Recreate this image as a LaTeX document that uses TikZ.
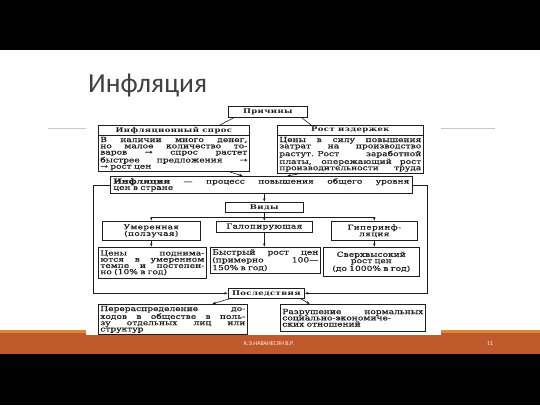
\documentclass[tikz,border=0pt]{standalone}
\usepackage{fontspec}
\setmainfont{DejaVu Serif}
\newfontfamily\titlefont{Carlito}
\newfontfamily\dfont[FakeStretch=1.3,FakeBold=0.5]{DejaVu Serif}
\newfontfamily\hfont[FakeStretch=1.3,LetterSpace=6]{DejaVu Serif}
\usetikzlibrary{arrows.meta}
\definecolor{barorange}{HTML}{BF5A2C}
\definecolor{striporange}{HTML}{DE8638}
\definecolor{rulegray}{HTML}{C8C8C8}
\definecolor{titlegray}{HTML}{404040}
\definecolor{ink}{HTML}{1E1E1E}
\newcommand\jl[1]{\leavevmode\hbox to \hsize{\spaceskip=0.3em plus 1fil\relax #1}\\}
\newcommand\jlast[1]{\leavevmode\hbox to \hsize{\spaceskip=0.3em plus 1fil\relax #1}}
\begin{document}
\begin{tikzpicture}[x=1pt,y=-1pt,
  box/.style={draw=ink, line width=0.6pt, inner sep=1.6pt, anchor=north west, text=ink,
    font=\dfont\fontsize{7}{6.25}\selectfont, align=left},
  hbox/.style={draw=ink, line width=0.6pt, inner sep=0pt, anchor=north west, text=ink,
    font=\hfont\bfseries\fontsize{6.5}{6.5}\selectfont, align=center},
  tbox/.style={draw=ink, line width=0.6pt, inner sep=0pt, anchor=north west, text=ink,
    font=\dfont\addfontfeature{LetterSpace=6}\fontsize{6.8}{6.6}\selectfont, align=center},
  ln/.style={draw=ink, line width=0.6pt},
  arr/.style={ln, -{Latex[length=3.5pt,width=2.6pt]}},
]
\useasboundingbox (0,0) rectangle (540,405);
% slide background
\fill[white] (0,0) rectangle (540,405);
\fill[black] (0,0) rectangle (540,50);
\fill[black] (0,354) rectangle (540,405);
\fill[barorange] (0,333) rectangle (540,354);
\fill[striporange] (0,330) rectangle (540,333);
\draw[rulegray, line width=0.8pt] (48,128) -- (495,128);
\node[anchor=base west, font=\titlefont\fontsize{27.5}{27.5}\selectfont, text=titlegray, inner sep=0pt] (title) at (88,92) {Инфляция};
% scanned image area
\fill[white] (86,99) rectangle (441,335);

% causes
\node[hbox, minimum width=79pt, minimum height=11pt] (prich) at (228,106) {Причины};
\node[hbox, minimum width=151pt, minimum height=10pt] (lh) at (98,125) {Инфляционный спрос};
\node[box, minimum width=151pt, minimum height=34pt, text width=147pt] (lb) at (98,135)
  {\jl{В наличии много денег,}\jl{но малое количество то-}\jl{варов → спрос растет}\jl{быстрее предложения →}→ рост цен};
\node[hbox, minimum width=146pt, minimum height=10pt] (rh) at (277,125) {Рост издержек};
\node[box, minimum width=146pt, minimum height=34pt, text width=142pt] (rb) at (277,135)
  {\jl{Цены в силу повышения}\jl{затрат на производство}\jl{растут. Рост заработной}\jl{платы, опережающий рост}\jlast{производительности труда}};
\draw[ln] ([xshift=6pt]prich.south west) -- ([xshift=122pt]lh.north west);
\draw[ln] ([xshift=-6pt]prich.south east) -- ([xshift=34pt]rh.north west);

% definition
\node[box, minimum width=302pt, minimum height=17pt, text width=296pt] (infl) at (110,176)
  {\jl{\textbf{Инфляция} — процесс повышения общего уровня}цен в стране};
\draw[arr] ([xshift=132pt]lb.south west) -- ([xshift=133pt]infl.north west);
\draw[arr] ([xshift=23pt]rb.south west) -- ([xshift=177pt]infl.north west);

% kinds
\node[hbox, minimum width=78pt, minimum height=10pt] (vidy) at (225,202) {Виды};
\draw[arr] (infl.south -| vidy.north) -- (vidy.north);
\node[tbox, minimum width=98pt, minimum height=19pt] (t1) at (102,221) {Умеренная\\(ползучая)};
\node[tbox, minimum width=96pt, minimum height=11pt] (t2) at (216,221) {Галопирующая};
\node[tbox, minimum width=86pt, minimum height=19pt] (t3) at (331,221) {Гиперинф-\\ляция};
\draw[ln] (vidy.south) -- ++(0,5) coordinate (bj);
\draw[arr] (bj) -| (t1.north);
\draw[arr] (bj) -| (t3.north);
\draw[arr] (bj) -- (bj |- t2.north);

\node[box, minimum width=108pt, minimum height=31pt, text width=104pt] (d1) at (98,247)
  {\jl{Цены поднима-}\jl{ются в умеренном}\jl{темпе и постепен-}но (10\% в год)};
\node[box, minimum width=110pt, minimum height=26pt, text width=106pt] (d2) at (210,247)
  {\jl{Быстрый рост цен}\jl{(примерно 100—}150\% в год)};
\node[box, minimum width=96pt, minimum height=29pt, text width=92pt, align=center] (d3) at (323,247)
  {Сверхвысокий\\рост цен\\(до 1000\% в год)};
\draw[arr] (t1.south) -- (t1.south |- d1.north);
\draw[arr] (t2.south -| bj) -- (bj |- d2.north);
\draw[arr] (t3.south) -- (t3.south |- d3.north);

% consequences
\node[hbox, minimum width=76pt, minimum height=10pt] (posl) at (228,288) {Последствия};
\draw[arr] (infl.west) -- ++(-17,0) |- (posl.west);
\draw[arr] (infl.east) -- ++(15,0) |- (posl.east);
\node[box, minimum width=149pt, minimum height=27pt, text width=145pt] (c1) at (98,304)
  {\jl{Перераспределение до-}\jl{ходов в обществе в поль-}\jl{зу отдельных лиц или}структур};
\node[box, minimum width=145pt, minimum height=27pt, text width=141pt] (c2) at (280,304)
  {\jl{Разрушение нормальных}\jl{социально-экономиче-}ских отношений};
\draw[arr] ([xshift=2pt]posl.south west) -- ([xshift=114pt]c1.north west);
\draw[arr] ([xshift=-4pt]posl.south east) -- ([xshift=30pt]c2.north west);

% footer
\node[font=\titlefont\fontsize{6}{6}\selectfont, text=white!90!barorange, inner sep=0pt] (foot) at (269,344) {К.Э.НАВАНЕСЯН В.Р.};
\node[font=\titlefont\fontsize{6}{6}\selectfont, text=white!90!barorange, inner sep=0pt] (pg) at (490,344) {11};
\end{tikzpicture}
\end{document}
